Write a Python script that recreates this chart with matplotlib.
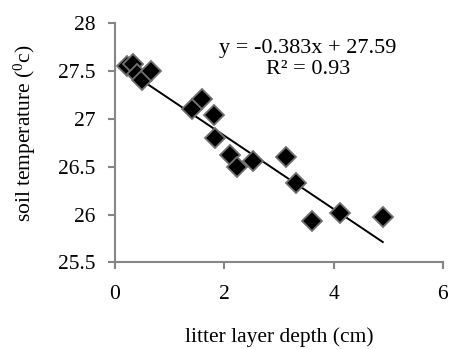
import matplotlib.pyplot as plt
import numpy as np

plt.rcParams['font.family'] = ['Liberation Serif', 'DejaVu Serif']
plt.rcParams['mathtext.fontset'] = 'custom'
plt.rcParams['mathtext.rm'] = 'Liberation Serif'

# litter depth (cm) vs soil temperature (°C)
depth = [0.22, 0.33, 0.40, 0.49, 0.66, 1.41, 1.59, 1.81, 1.83, 2.10, 2.23, 2.52, 3.13, 3.31, 3.60, 4.12, 4.90]
temp = [27.55, 27.57, 27.47, 27.40, 27.50, 27.10, 27.21, 27.04, 26.80, 26.62, 26.50, 26.56, 26.60, 26.33, 25.93, 26.02, 25.97]
slope, intercept = -0.383, 27.59

fig = plt.figure(figsize=(4.51, 3.49), dpi=100)
ax = fig.add_axes([0.255, 0.248, 0.727, 0.686])

xl = np.array([min(depth), max(depth)])
ax.plot(xl, slope * xl + intercept, color='black', lw=1.4, zorder=2)
ax.plot(depth, temp, 'D', ms=10.5, mfc='black', mec='#707070', mew=1.3, zorder=3)

ax.set_xlim(0, 6)
ax.set_ylim(25.5, 28)
ax.set_xticks([0, 2, 4, 6])
ax.set_yticks([25.5, 26, 26.5, 27, 27.5, 28])
ax.set_yticklabels(['25.5', '26', '26.5', '27', '27.5', '28'])

for s in ['top', 'right']:
    ax.spines[s].set_visible(False)
for s in ['left', 'bottom']:
    ax.spines[s].set_color('#868686')
    ax.spines[s].set_linewidth(1.5)
ax.tick_params(colors='#868686', labelcolor='black', labelsize=15.5, length=5, width=1.5)
ax.tick_params(axis='x', pad=11)
ax.tick_params(axis='y', pad=9)

ax.set_xlabel('litter layer depth (cm)', fontsize=15.5, labelpad=17)
ax.set_ylabel(r'soil temperature ($\mathregular{^{0}}$c)', fontsize=15.5)
ax.yaxis.set_label_coords(-0.235, 0.54)

ax.text(0.588, 0.85, 'y = -0.383x + 27.59\nR² = 0.93', transform=ax.transAxes,
        fontsize=16, ha='center', va='center', linespacing=1.15)

fig.savefig('out.png', dpi=100)
